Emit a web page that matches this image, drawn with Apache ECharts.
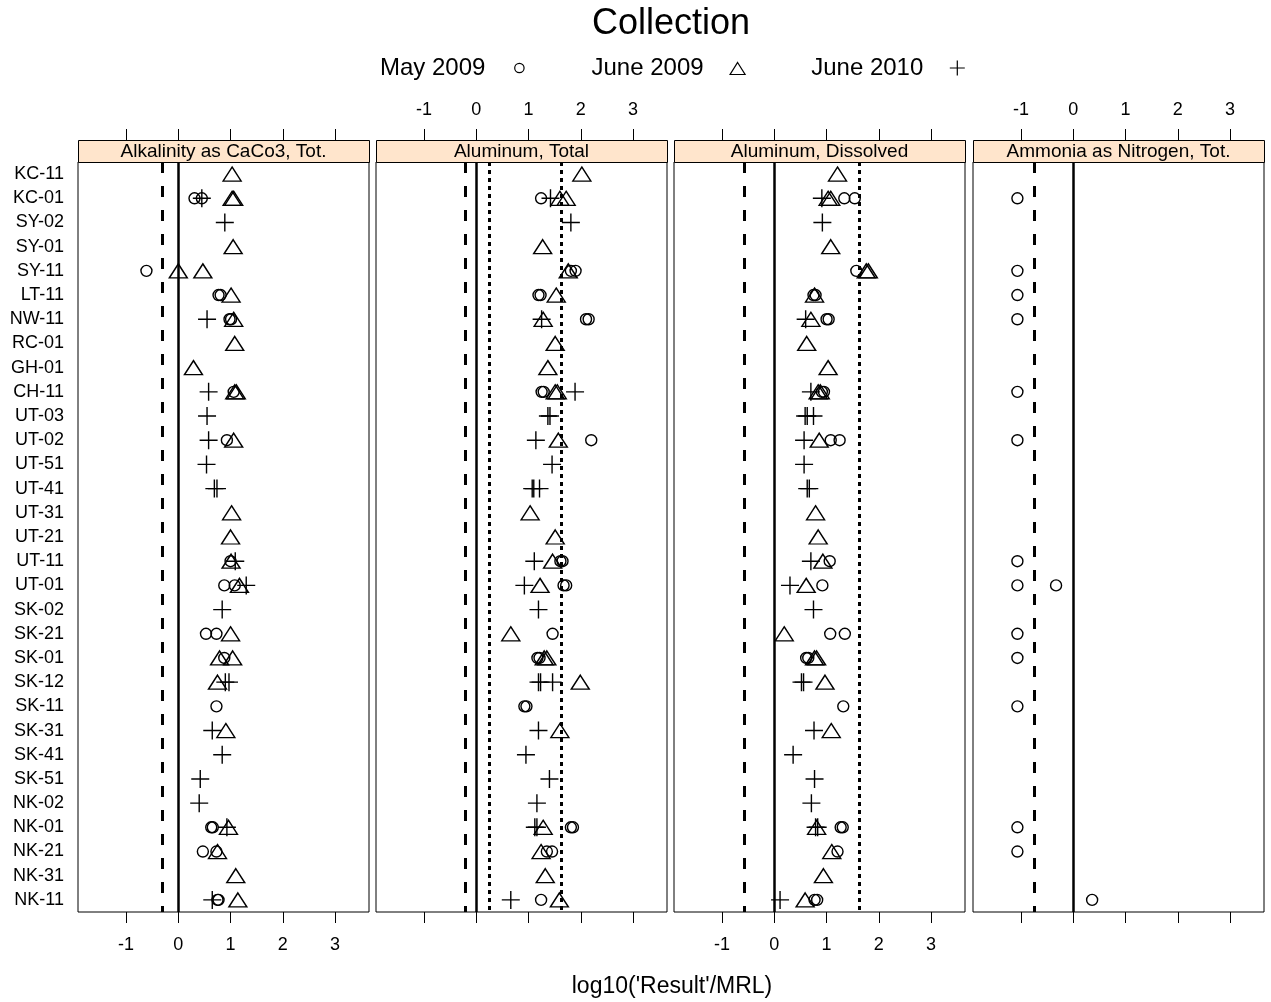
<!DOCTYPE html>
<html>
<head>
<meta charset="utf-8">
<script src="https://cdn.jsdelivr.net/npm/echarts@6/dist/echarts.min.js"></script>
<style>html,body{margin:0;padding:0;background:#fff}#c{width:1271px;height:1002px}</style>
</head>
<body>
<div id="c"></div>
<script>
// ---------- data ----------
const sites = ["KC-11","KC-01","SY-02","SY-01","SY-11","LT-11","NW-11","RC-01","GH-01","CH-11","UT-03","UT-02","UT-51","UT-41","UT-31","UT-21","UT-11","UT-01","SK-02","SK-21","SK-01","SK-12","SK-11","SK-31","SK-41","SK-51","NK-02","NK-01","NK-21","NK-31","NK-11"];
const panelTitles = ["Alkalinity as CaCo3, Tot.","Aluminum, Total","Aluminum, Dissolved","Ammonia as Nitrogen, Tot."];
const collections = ["May 2009","June 2009","June 2010"];
const tickValues = [-1,0,1,2,3];

// Alkalinity as CaCo3, Tot.
const alkMay2009 = [["KC-01",0.31],["KC-01",0.45],["SY-11",-0.61],["LT-11",0.77],["LT-11",0.81],["NW-11",0.98],["NW-11",1.01],["CH-11",1.06],["UT-02",0.93],["UT-11",1.0],["UT-01",0.88],["UT-01",1.08],["SK-21",0.53],["SK-21",0.73],["SK-01",0.88],["SK-11",0.73],["NK-01",0.63],["NK-01",0.66],["NK-21",0.47],["NK-21",0.73],["NK-11",0.75],["NK-11",0.77]];
const alkJun2009 = [["KC-11",1.03],["KC-01",1.03],["KC-01",1.06],["SY-01",1.05],["SY-11",0.0],["SY-11",0.47],["LT-11",1.01],["NW-11",1.06],["RC-01",1.08],["GH-01",0.29],["CH-11",1.08],["CH-11",1.11],["UT-02",1.06],["UT-31",1.02],["UT-21",1.0],["UT-11",1.01],["UT-01",1.17],["SK-21",1.0],["SK-01",0.79],["SK-01",1.04],["SK-12",0.75],["SK-31",0.91],["NK-01",0.96],["NK-21",0.75],["NK-31",1.10],["NK-11",1.14]];
const alkJun2010 = [["KC-01",0.45],["SY-02",0.89],["NW-11",0.55],["CH-11",0.58],["UT-03",0.55],["UT-02",0.58],["UT-51",0.54],["UT-41",0.69],["UT-41",0.74],["UT-11",1.09],["UT-01",1.30],["SK-02",0.84],["SK-12",0.90],["SK-12",0.97],["SK-31",0.65],["SK-41",0.84],["SK-51",0.42],["NK-02",0.40],["NK-01",0.93],["NK-11",0.65]];

// Aluminum, Total
const altMay2009 = [["KC-01",1.24],["SY-11",1.81],["SY-11",1.90],["LT-11",1.19],["LT-11",1.23],["NW-11",2.10],["NW-11",2.15],["CH-11",1.25],["CH-11",1.29],["UT-02",2.20],["UT-11",1.61],["UT-11",1.65],["UT-01",1.67],["UT-01",1.72],["SK-21",1.46],["SK-01",1.17],["SK-01",1.21],["SK-11",0.92],["SK-11",0.96],["NK-01",1.81],["NK-01",1.85],["NK-21",1.35],["NK-21",1.45],["NK-11",1.24]];
const altJun2009 = [["KC-11",2.02],["KC-01",1.60],["KC-01",1.72],["SY-01",1.27],["SY-11",1.76],["LT-11",1.53],["NW-11",1.28],["RC-01",1.51],["GH-01",1.37],["CH-11",1.51],["CH-11",1.55],["UT-02",1.57],["UT-31",1.03],["UT-21",1.51],["UT-11",1.46],["UT-01",1.22],["SK-21",0.66],["SK-01",1.30],["SK-01",1.35],["SK-12",1.99],["SK-31",1.60],["NK-01",1.28],["NK-21",1.24],["NK-31",1.32],["NK-11",1.59]];
const altJun2010 = [["KC-01",1.42],["SY-02",1.81],["NW-11",1.25],["CH-11",1.89],["UT-03",1.37],["UT-03",1.41],["UT-02",1.14],["UT-51",1.45],["UT-41",1.07],["UT-41",1.10],["UT-41",1.21],["UT-11",1.11],["UT-01",0.92],["SK-02",1.19],["SK-12",1.19],["SK-12",1.23],["SK-12",1.46],["SK-31",1.19],["SK-41",0.95],["SK-51",1.40],["NK-02",1.16],["NK-01",1.12],["NK-01",1.16],["NK-11",0.66]];

// Aluminum, Dissolved
const aldMay2009 = [["KC-01",1.34],["KC-01",1.54],["SY-11",1.57],["LT-11",0.75],["LT-11",0.79],["NW-11",1.0],["NW-11",1.04],["CH-11",0.91],["CH-11",0.95],["UT-02",1.08],["UT-02",1.25],["UT-11",1.06],["UT-01",0.92],["SK-21",1.07],["SK-21",1.35],["SK-01",0.61],["SK-01",0.65],["SK-11",1.32],["NK-01",1.27],["NK-01",1.31],["NK-21",1.21],["NK-11",0.77],["NK-11",0.82]];
const aldJun2009 = [["KC-11",1.21],["KC-01",1.03],["KC-01",1.08],["SY-01",1.08],["SY-11",1.76],["SY-11",1.80],["LT-11",0.77],["NW-11",0.70],["RC-01",0.62],["GH-01",1.03],["CH-11",0.84],["CH-11",0.88],["UT-02",0.86],["UT-31",0.79],["UT-21",0.84],["UT-11",0.93],["UT-01",0.61],["SK-21",0.19],["SK-01",0.77],["SK-01",0.81],["SK-12",0.97],["SK-31",1.09],["NK-01",0.81],["NK-21",1.10],["NK-31",0.94],["NK-11",0.59]];
const aldJun2010 = [["KC-01",0.91],["SY-02",0.92],["NW-11",0.60],["CH-11",0.70],["UT-03",0.59],["UT-03",0.63],["UT-03",0.75],["UT-02",0.57],["UT-51",0.57],["UT-41",0.63],["UT-41",0.67],["UT-11",0.70],["UT-01",0.30],["SK-02",0.75],["SK-12",0.52],["SK-12",0.56],["SK-31",0.76],["SK-41",0.36],["SK-51",0.77],["NK-02",0.71],["NK-01",0.79],["NK-01",0.83],["NK-11",0.11]];

// Ammonia as Nitrogen, Tot.
const amnMay2009 = [["KC-01",-1.07],["SY-11",-1.07],["LT-11",-1.07],["NW-11",-1.07],["CH-11",-1.07],["UT-02",-1.07],["UT-11",-1.07],["UT-01",-1.07],["UT-01",-0.33],["SK-21",-1.07],["SK-01",-1.07],["SK-11",-1.07],["NK-01",-1.07],["NK-21",-1.07],["NK-11",0.36]];
const amnJun2009 = [];
const amnJun2010 = [];

// reference lines per panel
const dashedRef = [-0.30, -0.22, -0.58, -0.75];
const solidRef = [0, 0, 0, 0];
const dottedRef = [[], [0.24, 1.63], [1.62], []];

// ---------- layout ----------
const FONT = "'Liberation Sans', Arial, Helvetica, sans-serif";
const panelData = [
  [alkMay2009, alkJun2009, alkJun2010],
  [altMay2009, altJun2009, altJun2010],
  [aldMay2009, aldJun2009, aldJun2010],
  [amnMay2009, amnJun2009, amnJun2010]
];
const lefts = [78, 376, 674, 973];
const PW = 291, TOP = 162, PH = 750, STRIP = 22;
const XMIN = -1.92, XMAX = 3.65;

const symbols = [
  {symbol: 'circle', size: 11},
  {symbol: 'triangle', size: [18, 14]},
  {symbol: 'path://M9,0L9,18M0,9L18,9', size: 18}
];

const grids = [], xAxes = [], yAxes = [], series = [], graphics = [];
for (let p = 0; p < 4; p++) {
  grids.push({left: lefts[p], top: TOP, width: PW, height: PH, show: true,
    borderColor: '#000', borderWidth: 1, backgroundColor: '#fff', containLabel: false});
  const showBottomLabel = (p % 2 === 0);
  // bottom axis
  xAxes.push({type: 'value', gridIndex: p, position: 'bottom', min: XMIN, max: XMAX,
    axisLine: {show: false}, splitLine: {show: false},
    axisTick: {show: true, length: 11, customValues: tickValues, lineStyle: {color: '#000', width: 1}},
    axisLabel: {show: showBottomLabel, customValues: tickValues, margin: 24, color: '#000',
      fontSize: 18, fontFamily: FONT, verticalAlign: 'top'}});
  // top axis (above the strip)
  xAxes.push({type: 'value', gridIndex: p, position: 'top', offset: STRIP, min: XMIN, max: XMAX,
    axisLine: {show: false}, splitLine: {show: false},
    axisTick: {show: true, length: 11, customValues: tickValues, lineStyle: {color: '#000', width: 1}},
    axisLabel: {show: !showBottomLabel, customValues: tickValues, margin: 21, color: '#000',
      fontSize: 18, fontFamily: FONT}});
  yAxes.push({type: 'category', gridIndex: p, data: sites, inverse: true, boundaryGap: true,
    axisLine: {show: false}, axisTick: {show: false}, splitLine: {show: false},
    axisLabel: {show: p === 0, interval: 0, hideOverlap: false, color: '#000', fontSize: 18,
      fontFamily: FONT, margin: 14}});

  for (let s = 0; s < 3; s++) {
    const ser = {
      type: 'scatter', name: collections[s], xAxisIndex: 2 * p, yAxisIndex: p,
      data: panelData[p][s].map(d => [d[1], d[0]]),
      symbol: symbols[s].symbol, symbolSize: symbols[s].size,
      itemStyle: {color: 'rgba(0,0,0,0)', borderColor: '#000', borderWidth: 1.4, opacity: 1},
      emphasis: {disabled: true}, silent: true, animation: false, z: 5
    };
    if (s === 0) {
      const ml = [];
      ml.push({xAxis: dashedRef[p], lineStyle: {type: [11, 13], width: 3, color: '#000'}});
      ml.push({xAxis: solidRef[p], lineStyle: {type: 'solid', width: 2.5, color: '#000'}});
      dottedRef[p].forEach(v => ml.push({xAxis: v, lineStyle: {type: [4, 4], width: 3, color: '#000'}}));
      ser.markLine = {silent: true, symbol: 'none', label: {show: false}, animation: false,
        emphasis: {disabled: true}, data: ml};
    }
    series.push(ser);
  }

  // strip
  graphics.push({type: 'rect', left: lefts[p], top: TOP - STRIP, z: 10,
    shape: {width: PW, height: STRIP}, style: {fill: '#ffe5cc', stroke: '#000', lineWidth: 1}});
  graphics.push({type: 'text', x: lefts[p] + PW / 2, y: TOP - STRIP / 2 + 1, z: 11,
    style: {text: panelTitles[p], fill: '#000', font: '19px ' + FONT, textAlign: 'center', textVerticalAlign: 'middle'}});
}

// title and x-axis title
graphics.push({type: 'text', x: 671, y: 24, z: 11,
  style: {text: 'Collection', fill: '#000', font: '36px ' + FONT, textAlign: 'center', textVerticalAlign: 'middle'}});
graphics.push({type: 'text', x: 672, y: 987, z: 11,
  style: {text: "log10('Result'/MRL)", fill: '#000', font: '23px ' + FONT, textAlign: 'center', textVerticalAlign: 'middle'}});

const chart = echarts.init(document.getElementById('c'), null, {renderer: 'canvas'});
chart.setOption({
  animation: false,
  backgroundColor: '#fff',
  grid: grids, xAxis: xAxes, yAxis: yAxes, series: series,
  legend: {
    left: 375, top: 51, align: 'right', itemGap: 64, itemWidth: 58, itemHeight: 15,
    selectedMode: false, symbolKeepAspect: true,
    textStyle: {fontSize: 24, fontFamily: FONT, color: '#000'},
    itemStyle: {color: 'rgba(0,0,0,0)', borderColor: '#000', borderWidth: 1.2},
    data: [
      {name: 'May 2009', icon: 'path://M0,0M16,16M8,3A5,5 0 1,1 7.99,3Z'},
      {name: 'June 2009', icon: 'path://M0,0M18,15M9,2L16.5,14L1.5,14Z'},
      {name: 'June 2010', icon: 'path://M9,0L9,18M0,9L18,9'}
    ]
  },
  graphic: graphics
});
</script>
</body>
</html>
